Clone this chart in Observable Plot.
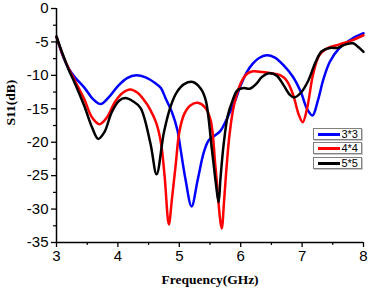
<!DOCTYPE html>
<html><head><meta charset="utf-8">
<script src="https://cdn.jsdelivr.net/npm/d3@7"></script>
<script src="https://cdn.jsdelivr.net/npm/@observablehq/plot@0.6"></script>
<style>
body{margin:0;background:#fff}
#wrap{position:relative;width:368px;height:289px;overflow:hidden}
.leg{position:absolute;left:313px;width:49px;height:12px;box-sizing:border-box;border:1px solid #808080;background:#fff;box-shadow:1px 1px 0 #c8c8c8}
.leg .sw{position:absolute;left:4px;top:4px;width:22px;height:2.5px}
.leg .lb{position:absolute;right:3px;top:-2px;font:11px "Liberation Sans",Arial,sans-serif;color:#000;line-height:14px}
</style></head><body><div id="wrap"></div>
<script>
const seriesNames = ["3*3", "4*4", "5*5"];
const seriesColors = ["#0000ff", "#ff0000", "#000000"];

const freq33 = [3.0,3.1,3.2,3.3,3.45,3.6,3.72,3.85,4.0,4.15,4.3,4.45,4.6,4.7,4.78,4.88,4.97,5.02,5.1,5.2,5.3,5.4,5.48,5.58,5.67,5.75,5.82,5.9,6.0,6.1,6.2,6.3,6.42,6.55,6.7,6.85,6.98,7.08,7.17,7.25,7.35,7.45,7.6,7.8,8.0];
const s11_33 = [-4.2,-7.0,-9.0,-10.3,-11.8,-13.6,-14.3,-13.3,-11.6,-10.4,-10.0,-10.3,-11.1,-11.9,-13.5,-15.5,-18.2,-21.0,-25.5,-29.6,-25.6,-21.5,-19.7,-19.0,-18.3,-17.0,-15.6,-14.0,-11.5,-9.5,-8.2,-7.4,-7.0,-7.3,-8.5,-10.2,-12.5,-15.0,-16.0,-14.0,-10.5,-8.0,-6.0,-4.6,-3.7];

const freq44 = [3.0,3.1,3.2,3.3,3.45,3.58,3.7,3.82,3.95,4.08,4.2,4.32,4.45,4.53,4.62,4.7,4.76,4.83,4.88,4.94,5.0,5.08,5.18,5.3,5.42,5.51,5.59,5.69,5.73,5.77,5.82,5.89,6.0,6.1,6.2,6.35,6.5,6.65,6.75,6.85,6.95,7.01,7.08,7.18,7.28,7.4,7.6,7.8,8.0];
const s11_44 = [-4.2,-6.9,-9.0,-10.8,-13.5,-16.3,-17.3,-16.3,-14.0,-12.6,-12.1,-12.6,-14.0,-15.2,-17.0,-20.0,-25.0,-32.3,-28.5,-23.5,-18.5,-15.8,-14.5,-14.1,-14.8,-16.7,-23.8,-32.9,-28.7,-23.7,-18.7,-14.5,-11.2,-9.8,-9.4,-9.5,-9.7,-10.0,-10.8,-12.8,-16.0,-17.0,-15.0,-9.8,-7.0,-6.0,-5.4,-4.8,-4.0];

const freq55 = [3.0,3.1,3.2,3.3,3.45,3.58,3.68,3.78,3.9,4.02,4.12,4.25,4.37,4.53,4.63,4.75,4.86,4.96,5.08,5.22,5.35,5.43,5.53,5.6,5.64,5.67,5.72,5.79,5.87,5.95,6.05,6.15,6.25,6.35,6.46,6.58,6.7,6.8,6.87,6.98,7.1,7.22,7.32,7.45,7.58,7.7,7.83,7.92,8.0];
const s11_55 = [-4.2,-6.8,-9.2,-11.2,-14.5,-17.8,-19.5,-18.5,-15.5,-13.8,-13.4,-13.9,-14.9,-20.2,-24.8,-18.5,-14.6,-12.5,-11.3,-11.0,-12.0,-13.7,-21.0,-26.5,-29.0,-25.5,-20.5,-16.0,-13.7,-12.2,-11.9,-12.0,-11.3,-10.2,-9.7,-10.0,-11.5,-12.9,-13.3,-12.6,-10.8,-8.0,-6.4,-5.9,-5.9,-5.4,-5.2,-5.8,-6.5];

const xTicks = [3, 4, 5, 6, 7, 8];
const xMinor = [3.5, 4.5, 5.5, 6.5, 7.5];
const yTicks = [0, -5, -10, -15, -20, -25, -30, -35];
const yMinor = [-2.5, -7.5, -12.5, -17.5, -22.5, -27.5, -32.5];
const xLabel = "Frequency(GHz)";
const yLabel = "S11(dB)";

const freqs = [freq33, freq44, freq55];
const vals = [s11_33, s11_44, s11_55];
const rows = [];
seriesNames.forEach((n, i) => freqs[i].forEach((f, j) => rows.push({f, s: vals[i][j], series: n})));

const chart = Plot.plot({
  width: 368, height: 289,
  marginLeft: 56, marginRight: 5, marginTop: 8, marginBottom: 47,
  style: {fontFamily: "'Liberation Sans', Arial, sans-serif", fontSize: "15px", background: "#fff", color: "#000"},
  x: {domain: [3, 8]},
  y: {domain: [-35, 0]},
  color: {domain: seriesNames, range: seriesColors},
  marks: [
    Plot.axisX({ticks: xTicks, tickSize: 5, tickPadding: 3, tickFormat: d => String(d), label: null, strokeWidth: 1.3, fontSize: 15}),
    Plot.axisX({ticks: xMinor, tickSize: 3, text: null, label: null, strokeWidth: 1.2}),
    Plot.axisY({ticks: yTicks, tickSize: 5, tickPadding: 3, tickFormat: d => String(d), label: null, strokeWidth: 1.3, fontSize: 15}),
    Plot.axisY({ticks: yMinor, tickSize: 3, text: null, label: null, strokeWidth: 1.2}),
    Plot.line(rows, {x: "f", y: "s", z: "series", stroke: "series", strokeWidth: 2.5, curve: "catmull-rom"}),
    Plot.ruleX([3], {strokeWidth: 1.5}),
    Plot.ruleY([-35], {strokeWidth: 1.5}),
    Plot.text([xLabel], {frameAnchor: "bottom", dy: 37, text: d => d, fontFamily: "'Liberation Serif', 'Times New Roman', serif", fontWeight: "bold", fontSize: 13.5, lineAnchor: "middle"}),
    Plot.text([yLabel], {frameAnchor: "left", dx: -46, rotate: -90, text: d => d, fontFamily: "'Liberation Serif', 'Times New Roman', serif", fontWeight: "bold", fontSize: 13.5, lineAnchor: "middle"})
  ]
});
const wrap = document.getElementById("wrap");
wrap.appendChild(chart);
const legTops = [128, 142, 157];
seriesNames.forEach((n, i) => {
  const d = document.createElement("div");
  d.className = "leg";
  d.style.top = legTops[i] + "px";
  d.innerHTML = `<div class="sw" style="background:${seriesColors[i]}"></div><div class="lb">${n}</div>`;
  wrap.appendChild(d);
});
</script></body></html>
